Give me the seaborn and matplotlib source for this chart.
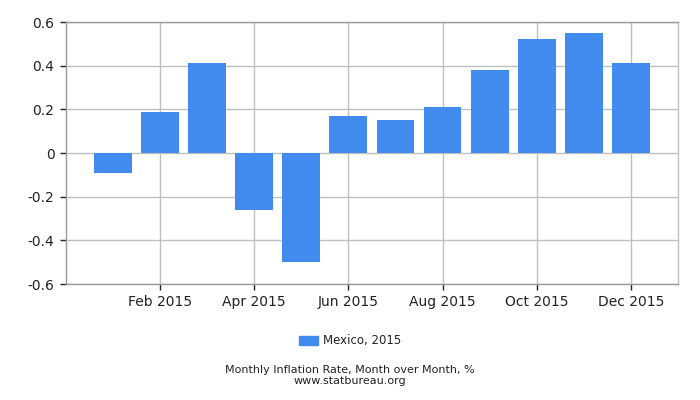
import matplotlib
matplotlib.use("Agg")
import matplotlib.pyplot as plt
import seaborn as sns
from matplotlib.patches import Patch

meses = ["Jan", "Feb", "Mar", "Apr", "May", "Jun", "Jul", "Aug", "Sep", "Oct", "Nov", "Dec"]
valores = [-0.09, 0.19, 0.41, -0.26, -0.50, 0.17, 0.15, 0.21, 0.38, 0.52, 0.55, 0.41]
rotulos_x = ["Feb 2015", "Apr 2015", "Jun 2015", "Aug 2015", "Oct 2015", "Dec 2015"]
ticks_y = [-0.6, -0.4, -0.2, 0, 0.2, 0.4, 0.6]
rotulos_y = ["-0.6", "-0.4", "-0.2", "0", "0.2", "0.4", "0.6"]

AZUL = "#418bef"
GRELHA = "#c0c0c0"

sns.set_style("white")
plt.rcParams["font.family"] = ["DejaVu Sans"]

fig, ax = plt.subplots(figsize=(7, 4), dpi=100)
fig.subplots_adjust(left=0.0936, right=0.969, top=0.945, bottom=0.29)

sns.barplot(x=meses, y=valores, color=AZUL, saturation=1, width=0.8, ax=ax,
            linewidth=0, edgecolor="none", zorder=3)

ax.set_xlim(-1, 12)
ax.set_ylim(-0.6, 0.6)
ax.set_xticks([1, 3, 5, 7, 9, 11])
ax.set_xticklabels(rotulos_x)
ax.set_yticks(ticks_y)
ax.set_yticklabels(rotulos_y)
ax.set_xlabel("")
ax.set_ylabel("")

ax.grid(True, color=GRELHA, linewidth=1, zorder=0)
ax.set_axisbelow(True)
for lado in ["left", "top", "bottom"]:
    ax.spines[lado].set_color("#999999")
ax.spines["right"].set_color(GRELHA)
for s in ax.spines.values():
    s.set_linewidth(1)

ax.tick_params(axis="both", which="both", length=4, width=1, color="#222222",
               labelsize=10, labelcolor="#222222", direction="out", pad=4)
ax.tick_params(axis="x", bottom=True)
ax.tick_params(axis="y", left=True)

leg = fig.legend(handles=[Patch(color=AZUL, label="Mexico, 2015")], loc="center",
                 bbox_to_anchor=(0.5, 0.148), frameon=False, fontsize=8.5,
                 handlelength=1.6, handleheight=0.8, handletextpad=0.4)
for t in leg.get_texts():
    t.set_color("#222222")

fig.text(0.5, 0.075, "Monthly Inflation Rate, Month over Month, %", ha="center", va="center",
         fontsize=8, color="#222222")
fig.text(0.5, 0.047, "www.statbureau.org", ha="center", va="center",
         fontsize=8, color="#222222")

fig.savefig("out.png", dpi=100)
